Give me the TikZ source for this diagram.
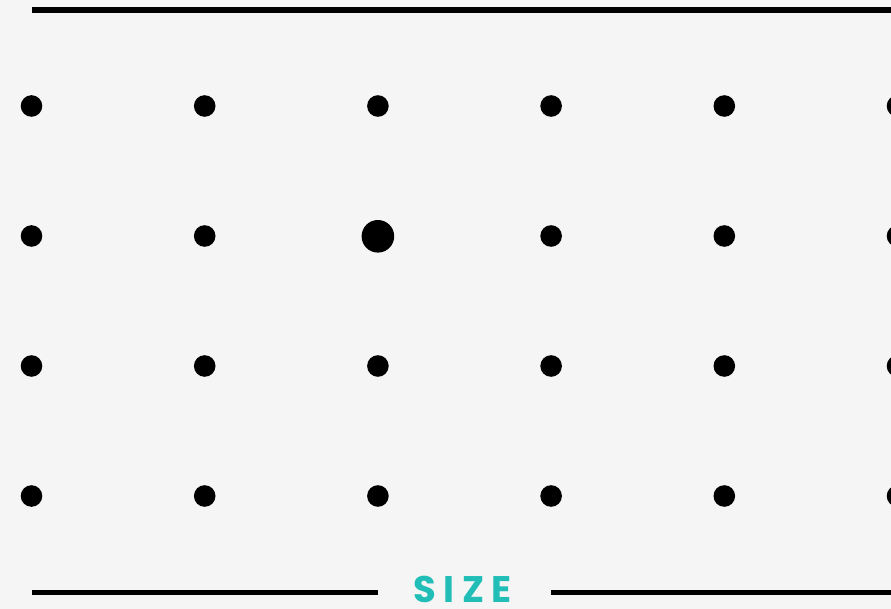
\documentclass[tikz,border=0pt]{standalone}
\usepackage{fontspec}
\newfontfamily\sizefont[LetterSpace=20]{Poppins}
\definecolor{paper}{RGB}{244,245,244}
\definecolor{teal}{RGB}{33,190,184}
\tikzset{
  rule/.style={line width=5.8pt,line cap=butt},
  dot/.style={fill=black}
}
\begin{document}
\begin{tikzpicture}[x=1pt,y=-1pt]
%
% Hintergrund und Rahmen
\fill[paper] (0,0) rectangle (891,609);
\useasboundingbox (0,0) rectangle (891,609);
% obere Linie
\draw[rule] (32,10) -- (891,10);
% Punktraster (6 Spalten, 4 Zeilen)
\foreach \col in {0,...,5}
  \foreach \row in {0,...,3}
    \fill[dot] ({31.5+173.2*\col},{106+130*\row}) circle (10.8pt);
% hervorgehobener Punkt
\fill[dot] (377.9,236.3) circle (16.3pt);
% untere Linie mit Beschriftung
\node[teal,anchor=base west,inner sep=0pt,text depth=0pt] (size) at (413.5,602)
  {\sizefont\bfseries\fontsize{37}{37}\selectfont SIZE};
\draw[rule] (32,592.5) -- (378,592.5);
\draw[rule] (551,592.5) -- (891,592.5);
\end{tikzpicture}
\end{document}
